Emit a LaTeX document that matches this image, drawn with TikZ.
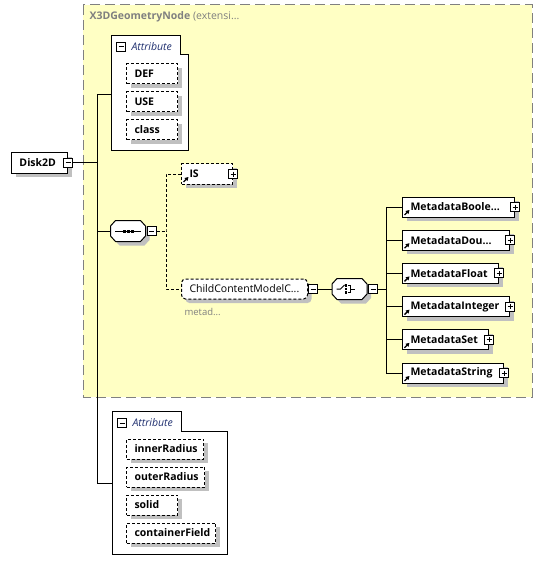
\documentclass[tikz,border=0pt]{standalone}
\usepackage{fontspec}
\setmainfont{Open Sans}
\usepackage{tikz}
\usetikzlibrary{arrows.meta, positioning, shadows, calc}
\definecolor{grpfill}{HTML}{FFFFC4}
\definecolor{shade}{HTML}{C0C0C0}
\definecolor{attrblue}{HTML}{1F2F6F}
\definecolor{grptext}{HTML}{808080}

\begin{document}
\begin{tikzpicture}[x=1pt, y=-1pt, line width=1pt,
    shad/.style={drop shadow={shadow xshift=4pt, shadow yshift=-4pt, fill=shade, opacity=1}},
    elem/.style={rectangle, draw, fill=white, shad, minimum height=20pt, inner xsep=8pt, inner ysep=0pt, anchor=west, align=left, font=\fontsize{10.5}{12}\selectfont\bfseries},
    dashln/.style={dash pattern=on 3pt off 2pt},
    attr/.style={elem, dashln},
    ref/.style={path picture={\draw[solid, line width=1.3pt, -{Triangle[length=3.6pt,width=4pt]}] ([shift={(2pt,2pt)}]path picture bounding box.south west) -- ++(5pt,5pt);}},
    tog/.style={rectangle, draw, solid, fill=white, minimum size=9pt, inner sep=0pt},
    minus/.style={tog, path picture={\draw ([xshift=2pt]path picture bounding box.west) -- ([xshift=-2pt]path picture bounding box.east);}},
    plus/.style={tog, path picture={\draw ([xshift=2pt]path picture bounding box.west) -- ([xshift=-2pt]path picture bounding box.east) ([yshift=-2pt]path picture bounding box.north) -- ([yshift=2pt]path picture bounding box.south);}},
    comp/.style={rectangle, minimum width=34pt, minimum height=20pt, inner sep=0pt},
    attlbl/.style={inner sep=0pt, anchor=west, font=\fontsize{10.5}{12}\selectfont\itshape, text=attrblue}
]
\useasboundingbox (0,0) rectangle (542,572);

% extension group
\draw[grptext, dash pattern=on 10pt off 5pt, fill=grpfill] (83,5) rectangle (532,397);
\node[anchor=west, inner sep=0pt, text=grptext, font=\fontsize{10.5}{12}\selectfont] (grpttl) at (89,17) {\textbf{X3DGeometryNode} (extensi...};

% top attributes
\draw[fill=white] (111,36) -- (180,36) -- (180,55) -- (188,55) -- (188,151) -- (111,151) -- cycle;
\node[minus] (atam) at (121,47) {};
\node[attlbl, right=5pt of atam] (atal) {Attribute};
\node[attr, text width=35pt] (def) at (126,74) {DEF};
\node[attr, text width=35pt] (use) at (126,102) {USE};
\node[attr, text width=35pt] (cls) at (126,130) {class};
\coordinate (ata) at (111,95);

% root
\node[elem, text width=40pt] (disk) at (11,163) {Disk2D};
\node[minus] (diskm) at (disk.east) {};

% compositors
\node[comp] (seq) at (128,231) {};
\node[comp] (cho) at (349.5,289) {};
\foreach \c in {seq,cho}
    \draw[fill=white, shad] ([xshift=5pt]\c.north west) -- ([xshift=-5pt]\c.north east) -- ([yshift=5pt]\c.east)
        -- ([yshift=-5pt]\c.east) -- ([xshift=-5pt]\c.south east) -- ([xshift=5pt]\c.south west)
        -- ([yshift=-5pt]\c.west) -- ([yshift=5pt]\c.west) -- cycle;
\node[minus, right=1pt of seq] (seqm) {};
\node[minus, right=1pt of cho] (chom) {};

% sequence
\draw[shift={(seq.center)}] (-13,0) -- (13,0);
\foreach \dx in {-4,0,4}
    \fill[shift={(seq.center)}] (\dx-1.5,-1.5) rectangle ++(3,3);

\node[attr, ref, text width=35pt] (is) at (181,174) {IS};
\node[plus] (isp) at (is.east) {};

\node[attr, rounded corners=4pt, text width=110pt, font=\fontsize{10.5}{12}\selectfont] (ccm) at (181,289) {ChildContentModelC...};
\node[minus, right=0pt of ccm] (ccmm) {};
\node[anchor=west, inner sep=0pt, text=grptext, font=\fontsize{9.5}{11}\selectfont] (ccmnote) at (184,312) {metad...};

% choice
\begin{scope}[shift={(cho.center)}]
    \draw (-13,0) -- (-9,0) -- (-5,-4);
    \foreach \dy in {-3.5,0,3.5}
        \fill (-4.5,\dy-1.2) rectangle ++(2.4,2.4);
    \draw (-1.5,-3.5) -- (1,-3.5) -- (1,3.5) -- (-1.5,3.5) (1,0) -- (5,0);
\end{scope}

\foreach \n/\y/\w/\t in {mb/207/96/MetadataBoole\ldots,md/240.2/91/MetadataDou\ldots,mf/273.4/80/MetadataFloat,mi/306.6/91/MetadataInteger,ms/339.8/70/MetadataSet,mst/373/85/MetadataString} {
    \node[elem, ref, text width=\w pt] (\n) at (402,\y) {\t};
    \node[plus] (p\n) at (\n.east) {};
}

% bottom attributes
\draw[fill=white] (112,411) -- (181,411) -- (181,431) -- (227,431) -- (227,554) -- (112,554) -- cycle;
\node[minus] (atbm) at (122,423) {};
\node[attlbl, right=5pt of atbm] (atbl) {Attribute};
\node[attr, text width=61pt] (inr) at (126,449) {innerRadius};
\node[attr, text width=62pt] (outr) at (126,477) {outerRadius};
\node[attr, text width=35pt] (sol) at (126,505) {solid};
\node[attr, text width=73pt] (cfld) at (126,533) {containerField};
\coordinate (atb) at (112,483);

% connectors
\coordinate (tk) at (97,163);
\draw (diskm.east) -- (tk);
\draw (ata) -| (tk |- atb) -- (atb);
\draw (tk |- seq) -- (seq.west);
\coordinate (sq) at (166,231);
\draw[dashln] (seqm.east) -- (sq);
\draw[dashln] (is.west) -| (sq) |- (ccm.west);
\draw (ccmm.east) -- (cho.west);
\coordinate (ch) at (386,289);
\draw (chom.east) -- (ch);
\foreach \n in {mb,md,mf,mi,ms,mst}
    \draw (\n.west) -| (ch);
\end{tikzpicture}
\end{document}
